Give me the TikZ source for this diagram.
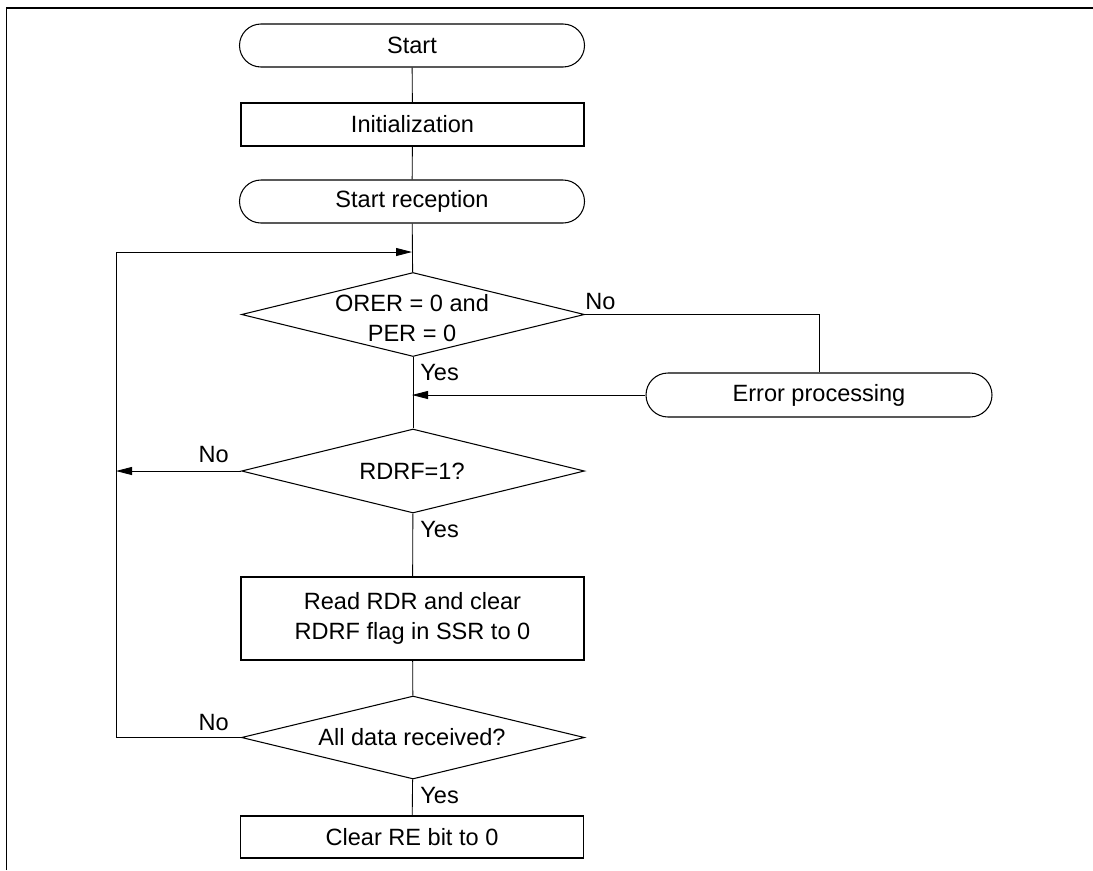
\documentclass[tikz,border=0pt]{standalone}
\usepackage{fontspec}
\setmainfont{Liberation Sans}
\usepackage{tikz}
\usetikzlibrary{shapes,arrows.meta,positioning,calc}

\begin{document}
\begin{tikzpicture}[
  font=\fontsize{13.4}{17.2}\selectfont,
  term/.style={rounded rectangle, draw=black, line width=0.6pt,
    minimum width=6.9cm, minimum height=0.86cm, inner sep=0pt},
  proc/.style={rectangle, draw=black, line width=0.6pt,
    minimum width=6.86cm, minimum height=0.86cm, align=center, inner sep=0pt},
  dec/.style={diamond, draw=black, line width=0.6pt,
    minimum width=6.86cm, minimum height=1.68cm, inner sep=0pt},
  dectxt/.style={align=center, inner sep=0pt},
  lbl/.style={inner sep=0pt},
  line/.style={line width=0.5pt},
  arr/.style={-{Triangle[length=0.32cm,width=0.16cm]}, line width=0.5pt}
]
\useasboundingbox (0,0) rectangle (21.86,-17.4);

%% Frame
\draw[line width=1.1pt] (0.13,-17.4) -- (0.13,-0.16) -- (21.86,-0.16);

%% Main column
\node[term] (start) at (8.24,-0.91) {Start};
\node[proc] (init) at (8.25,-2.49) {Initialization};
\node[term] (srx) at (8.24,-4.03) {Start reception};
\coordinate (join) at (8.24,-5.04);
\node[dec] (d1) at (8.26,-6.29) {};
\node[dectxt] (d1t) at (8.24,-6.36) {ORER = 0 and\\PER = 0};
\node[dec] (d2) at (8.26,-9.42) {};
\node[dectxt] (d2t) at (8.24,-9.42) {RDRF=1?};
\node[proc, minimum height=1.66cm] (read) at (8.25,-12.37)
  {Read RDR and clear\\RDRF flag in SSR to 0};
\node[dec, minimum height=1.66cm] (d3) at (8.26,-14.75) {};
\node[dectxt] (d3t) at (8.24,-14.75) {All data received?};
\node[proc, minimum height=0.84cm] (clear) at (8.24,-16.74) {Clear RE bit to 0};

%% Error branch
\node[term, minimum width=6.92cm, minimum height=0.88cm] (err) at (16.38,-7.9)
  {Error processing};

%% Loop corner
\coordinate (loop) at (2.32,-5.04);

%% Flow lines
\draw[line] (start) -- (init);
\draw[line] (init) -- (srx);
\draw[line] (srx) -- (d1);
\draw[line] (d1) -- (d2);
\draw[line] (d2) -- (read);
\draw[line] (read) -- (d3);
\draw[line] (d3) -- (clear);

%% Branches
\draw[line] (d1.east) -| (err.north);
\draw[arr] (err.west) -- (err.west -| join);
\draw[arr] (d2.west) -- (d2.west -| loop);
\draw[arr] (d3.west) -| (loop) -- (join);

%% Yes / No labels
\node[lbl, above right=0.08cm and 0cm of d1.east] (no1) {No};
\node[lbl, below right=0.14cm and 0.14cm of d1.south] (yes1) {Yes};
\node[lbl, above left=0.15cm and 0.24cm of d2.west] (no2) {No};
\node[lbl, below right=0.14cm and 0.14cm of d2.south] (yes2) {Yes};
\node[lbl, above left=0.13cm and 0.24cm of d3.west] (no3) {No};
\node[lbl, below right=0.15cm and 0.14cm of d3.south] (yes3) {Yes};

\end{tikzpicture}
\end{document}
